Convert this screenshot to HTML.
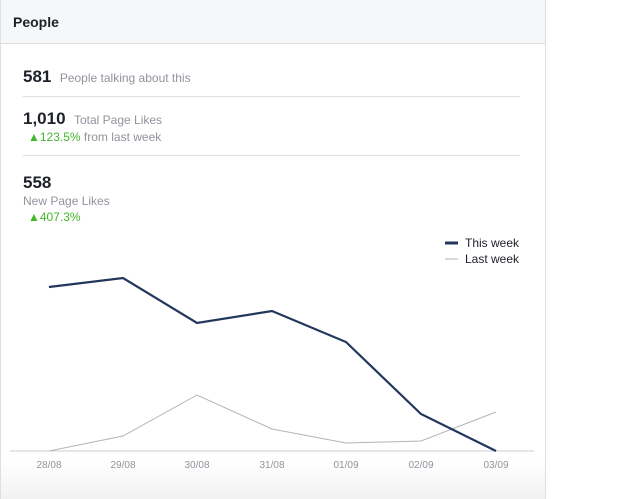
<!DOCTYPE html>
<html><head><style>
body{margin:0;width:640px;height:499px;background:#fff;font-family:"Liberation Sans",sans-serif;position:relative;overflow:hidden}
.panel{position:absolute;left:0;top:0;width:544px;height:499px;border-right:1px solid #dddfe2;border-left:1px solid #dddfe2;background:linear-gradient(#fff 460px,#f2f2f2 499px)}
.hdr{height:43px;background:#f6f7f9;border-bottom:1px solid #dddfe2;font-weight:bold;font-size:14px;color:#1d2129;line-height:44px;padding-left:12px}
.t{position:absolute;color:#1d2129}
.big{font-weight:bold;font-size:17px}
.g{color:#90949c;font-size:12px}
.up{color:#42b72a;font-size:12px}
.hr{position:absolute;left:23px;width:497px;height:1px;background:#dddfe2}
</style></head><body>
<div class="panel"><div class="hdr">People</div></div>
<div class="t" style="left:23px;top:67px"><span class="big">581</span> <span class="g" style="margin-left:4px">People talking about this</span></div>
<div class="hr" style="top:96px"></div>
<div class="t" style="left:23px;top:109px"><span class="big">1,010</span> <span class="g" style="margin-left:4px">Total Page Likes</span></div>
<div class="t up" style="left:28px;top:130px">▲123.5%<span style="color:#90949c"> from last week</span></div>
<div class="hr" style="top:155px"></div>
<div class="t big" style="left:23px;top:173px">558</div>
<div class="t g" style="left:23px;top:194px">New Page Likes</div>
<div class="t up" style="left:28px;top:210px">▲407.3%</div>
<svg style="position:absolute;left:0;top:0" width="640" height="499">
<line x1="445" y1="243" x2="458" y2="243" stroke="#23375c" stroke-width="3"/>
<line x1="445" y1="259" x2="458" y2="259" stroke="#b0b4bc" stroke-width="1"/>
<text x="465" y="247" font-size="12" fill="#1d2129" font-family="Liberation Sans">This week</text>
<text x="465" y="263" font-size="12" fill="#1d2129" font-family="Liberation Sans">Last week</text>
<line x1="10" y1="451" x2="534" y2="451" stroke="#c8ccd2"/>
<polyline fill="none" stroke="#b0b4bc" stroke-width="1" points="49,451 123,436 197,395 272,429 346,443 421,441 496,412"/>
<polyline fill="none" stroke="#23375c" stroke-width="2.2" points="49,287 123,278 197,323 272,311 346,342 421,414 496,451"/>
<g font-size="10" fill="#90949c" text-anchor="middle" font-family="Liberation Sans">
<text x="49" y="468">28/08</text><text x="123" y="468">29/08</text><text x="197" y="468">30/08</text><text x="272" y="468">31/08</text><text x="346" y="468">01/09</text><text x="421" y="468">02/09</text><text x="496" y="468">03/09</text>
</g></svg>
</body></html>
